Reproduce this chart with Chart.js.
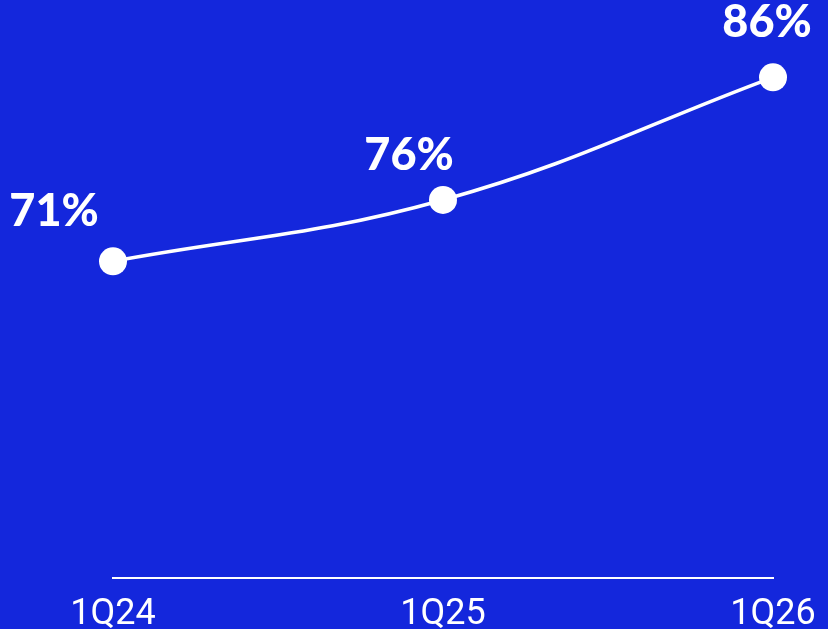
<!DOCTYPE html>
<html>
<head>
<meta charset="utf-8">
<script src="https://cdn.jsdelivr.net/npm/chart.js@4.4.1/dist/chart.umd.min.js"></script>
<style>
  html, body { margin: 0; padding: 0; background: #1427dc; overflow: hidden; }
  /* a bit taller than the window so the quarter labels run off the bottom edge */
  #wrap { width: 828px; height: 653px; }
</style>
</head>
<body>
<div id="wrap"><canvas id="chart"></canvas></div>
<script>
const quarters = ["1Q24", "1Q25", "1Q26"];
const shareValues = [71, 76, 86];
const valueLabels = ["71%", "76%", "86%"];

// nudges for the value labels, relative to each point
const labelDx = [-59, -34, -6];
const labelDy = [-35, -30, -40];

const valueLabelPlugin = {
  id: "valueLabels",
  afterDatasetsDraw(chart) {
    const ctx = chart.ctx;
    const meta = chart.getDatasetMeta(0);
    ctx.save();
    ctx.fillStyle = "#ffffff";
    ctx.font = "900 45px Lato";
    ctx.textAlign = "center";
    ctx.textBaseline = "alphabetic";
    meta.data.forEach(function (pt, i) {
      ctx.fillText(valueLabels[i], pt.x + labelDx[i], pt.y + labelDy[i]);
    });
    ctx.restore();
  },
};

new Chart(document.getElementById("chart"), {
  type: "line",
  data: {
    labels: quarters,
    datasets: [
      {
        data: shareValues,
        borderColor: "#ffffff",
        borderWidth: 3.5,
        backgroundColor: "#ffffff",
        pointRadius: 14,
        pointHoverRadius: 14,
        pointBorderWidth: 0,
        tension: 0.4,
        clip: false,
      },
    ],
  },
  options: {
    responsive: true,
    maintainAspectRatio: false,
    animation: false,
    events: [],
    layout: { autoPadding: false, padding: { left: 113, right: 55, top: 0, bottom: 0 } },
    plugins: { legend: { display: false }, tooltip: { enabled: false } },
    scales: {
      x: {
        offset: false,
        grid: { display: false, drawTicks: false },
        border: { display: true, color: "#ffffff", width: 2 },
        ticks: {
          color: "#ffffff",
          padding: 16,
          font: { family: "Roboto", size: 36, lineHeight: 1.2 },
          maxRotation: 0,
        },
        // let the last quarter label hang into the right margin
        afterFit(scale) {
          scale.paddingLeft = 0;
          scale.paddingRight = 0;
        },
      },
      y: {
        display: false,
        min: 45.2,
        max: 92.3,
      },
    },
  },
  plugins: [valueLabelPlugin],
});
</script>
</body>
</html>
